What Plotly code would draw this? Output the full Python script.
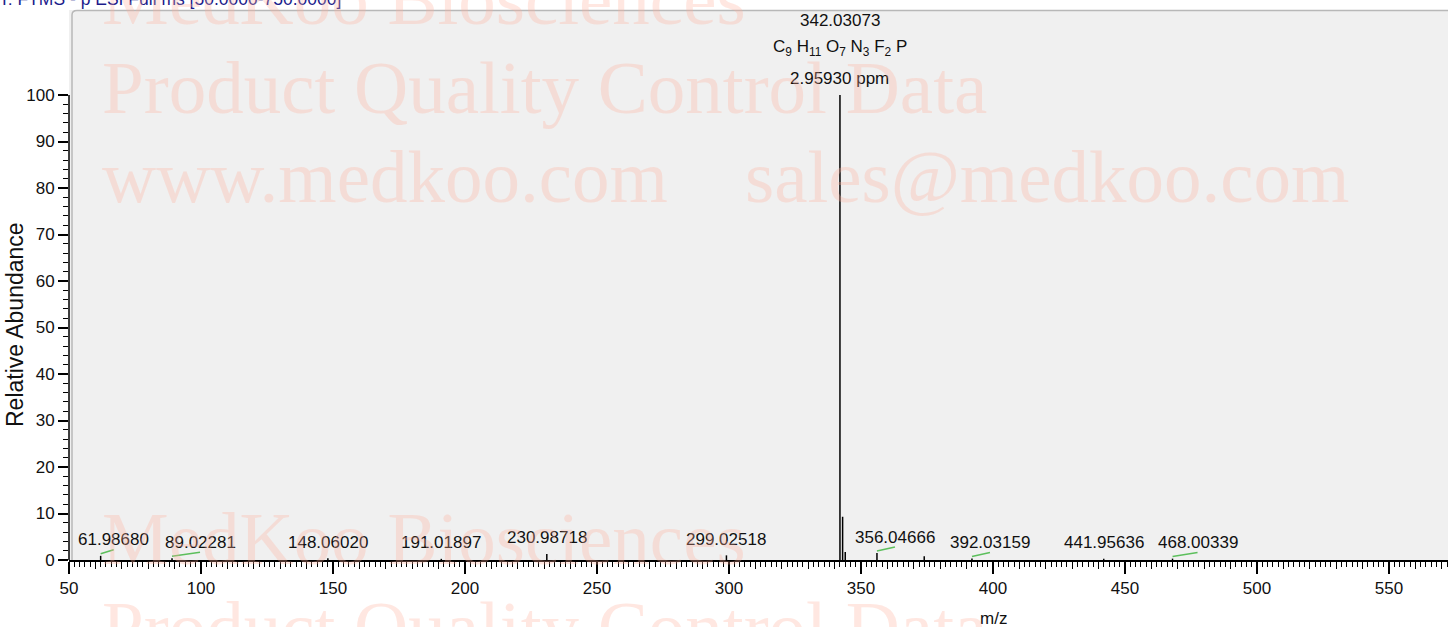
import plotly.graph_objects as go

# ---------------- data ----------------
peak_mz = [61.98680, 89.02281, 148.06020, 191.01897, 230.98718, 299.02518,
           342.03073, 343.03400, 344.03000, 356.04666, 373.95000, 392.03159,
           441.95636, 468.00339]
peak_int = [0.9, 0.35, 0.35, 0.25, 1.3, 1.0,
            100.0, 9.3, 1.7, 1.5, 0.8, 0.3,
            0.25, 0.3]

label_mz = [61.98680, 89.02281, 148.06020, 191.01897, 230.98718, 299.02518,
            356.04666, 392.03159, 441.95636, 468.00339]
label_text = ["61.98680", "89.02281", "148.06020", "191.01897", "230.98718",
              "299.02518", "356.04666", "392.03159", "441.95636", "468.00339"]

base_mz = 342.03073
base_label = "342.03073"
base_formula = "C<sub>9</sub> H<sub>11</sub> O<sub>7</sub> N<sub>3</sub> F<sub>2</sub> P"
base_ppm = "2.95930 ppm"

x_tick_step = 50
y_ticks = [0, 10, 20, 30, 40, 50, 60, 70, 80, 90, 100]
y_minor = list(range(0, 101, 2))

title_text = "T: FTMS - p ESI Full ms [50.0000-750.0000]"
wm_lines = ["MedKoo Biosciences", "Product Quality Control Data", "www.medkoo.com",
            "sales@medkoo.com"]

# ---------------- layout / style ----------------
W, H = 1448, 627
L, R, T, B = 69, 0, 10, 67
PW, PH = W - L - R, H - T - B
PX_PER_MZ = 2.64
PX_PER_PCT = 4.65
x_range = [50, 50 + PW / PX_PER_MZ]
y_range = [0, PH / PX_PER_PCT]

label_shift_px = [13, 28, 0, 0, 0, 0, 18, 18, 0, 25]

FONT = "Liberation Sans, Arial, sans-serif"
SERIF = "Liberation Serif, Times New Roman, serif"
WM_COLOR = "rgba(255,175,155,0.30)"


def pxp(x):
    return (x - L) / PW


def pyp(y):
    return (H - B - y) / PH


height_of = dict(zip(peak_mz, peak_int))

fig = go.Figure()

# stick spectrum
sx, sy = [], []
for m, h in zip(peak_mz, peak_int):
    sx += [m, m, None]
    sy += [0, h, None]
fig.add_trace(go.Scatter(x=sx, y=sy, mode="lines",
                         line=dict(color="black", width=1.5),
                         hoverinfo="skip", showlegend=False))

# green leader lines for shifted labels
gx, gy = [], []
for m, s in zip(label_mz, label_shift_px):
    if s > 0:
        h = height_of[m]
        gx += [m, m + s / PX_PER_MZ, None]
        gy += [h + 0.45, h + 1.3, None]
fig.add_trace(go.Scatter(x=gx, y=gy, mode="lines",
                         line=dict(color="#5cbf5c", width=1.5),
                         hoverinfo="skip", showlegend=False))

# invisible trace for the 10-unit tick overlay axis
fig.add_trace(go.Scatter(x=[x_range[0]], y=[0], xaxis="x2", mode="markers",
                         marker=dict(opacity=0), hoverinfo="skip", showlegend=False))

ann = []
# peak labels
for m, t, s in zip(label_mz, label_text, label_shift_px):
    ann.append(dict(x=m, y=height_of[m], xref="x", yref="y", text=t, showarrow=False,
                    xshift=s, yshift=16, yanchor="middle", xanchor="center",
                    font=dict(family=FONT, size=17, color="#111")))
# base peak labels
for t, ys in [(base_label, 75), (base_formula, 47), (base_ppm, 17)]:
    ann.append(dict(x=base_mz, y=100, xref="x", yref="y", text=t, showarrow=False,
                    yshift=ys, yanchor="middle", xanchor="center",
                    font=dict(family=FONT, size=17, color="#111")))

# axis titles
ann.append(dict(x=400, y=pyp(618), xref="x", yref="paper", text="m/z", showarrow=False,
                yanchor="middle", font=dict(family=FONT, size=17, color="#111")))
ann.append(dict(x=pxp(15), y=pyp(325), xref="paper", yref="paper", text="Relative Abundance",
                showarrow=False, textangle=-90, xanchor="center", yanchor="middle",
                font=dict(family=FONT, size=23, color="#111")))
# header (cut off)
ann.append(dict(x=pxp(-3), y=pyp(-1), xref="paper", yref="paper", text=title_text,
                showarrow=False, xanchor="left", yanchor="middle",
                font=dict(family=FONT, size=17.5, color="#1c1c8c")))

# watermark
wm_pos = [(wm_lines[0], 100, -2), (wm_lines[1], 100, 87), (wm_lines[2], 100, 177),
          (wm_lines[3], 743, 177), (wm_lines[0], 100, 538), (wm_lines[1], 100, 627)]
for t, xp, yp in wm_pos:
    ann.append(dict(x=pxp(xp), y=pyp(yp), xref="paper", yref="paper", text=t,
                    showarrow=False, xanchor="left", yanchor="middle",
                    font=dict(family=SERIF, size=75, color=WM_COLOR)))

shapes = [
    # frame border (top + left, rounded corner)
    dict(type="path", xref="paper", yref="paper",
         path=f"M {pxp(72)},{pyp(560)} L {pxp(72)},{pyp(15)} Q {pxp(72)},{pyp(10.5)} {pxp(77)},{pyp(10.5)} L {pxp(1448)},{pyp(10.5)}",
         line=dict(color="#b8b8b8", width=1.5), layer="below"),
    # y axis line (0..100 only)
    dict(type="line", xref="paper", yref="y", x0=0, x1=0, y0=0, y1=100,
         line=dict(color="black", width=1.5)),
]

fig.update_layout(
    width=W, height=H,
    margin=dict(l=L, r=R, t=T, b=B, pad=0),
    paper_bgcolor="white", plot_bgcolor="#f0f0f0",
    showlegend=False,
    annotations=ann, shapes=shapes,
    xaxis=dict(range=x_range, showline=True, linecolor="black", linewidth=2,
               ticks="outside", ticklen=12, tickwidth=1.5, tickcolor="black",
               tick0=50, dtick=x_tick_step, showgrid=False, zeroline=False,
               tickfont=dict(family=FONT, size=17, color="#111"),
               minor=dict(ticks="outside", ticklen=4.5, tickwidth=1, tickcolor="black",
                          tick0=50, dtick=2, showgrid=False)),
    xaxis2=dict(overlaying="x", matches="x", anchor="y", side="bottom",
                ticks="outside", ticklen=8, tickwidth=1.2, tickcolor="black",
                tick0=50, dtick=10, showticklabels=False, showgrid=False,
                zeroline=False, showline=False),
    yaxis=dict(range=y_range, showline=False, ticks="outside", ticklen=10,
               tickwidth=1.5, tickcolor="black", tickmode="array", tickvals=y_ticks,
               showgrid=False, zeroline=False,
               tickfont=dict(family=FONT, size=17, color="#111")),
)
fig.update_yaxes(minor=dict(ticks="outside", ticklen=5, tickwidth=1, tickcolor="black",
                            tickmode="array", tickvals=y_minor, showgrid=False))

fig.write_html("out.html", config={"displayModeBar": False},
               post_script="document.body.style.margin='0';document.body.style.overflow='hidden';")
